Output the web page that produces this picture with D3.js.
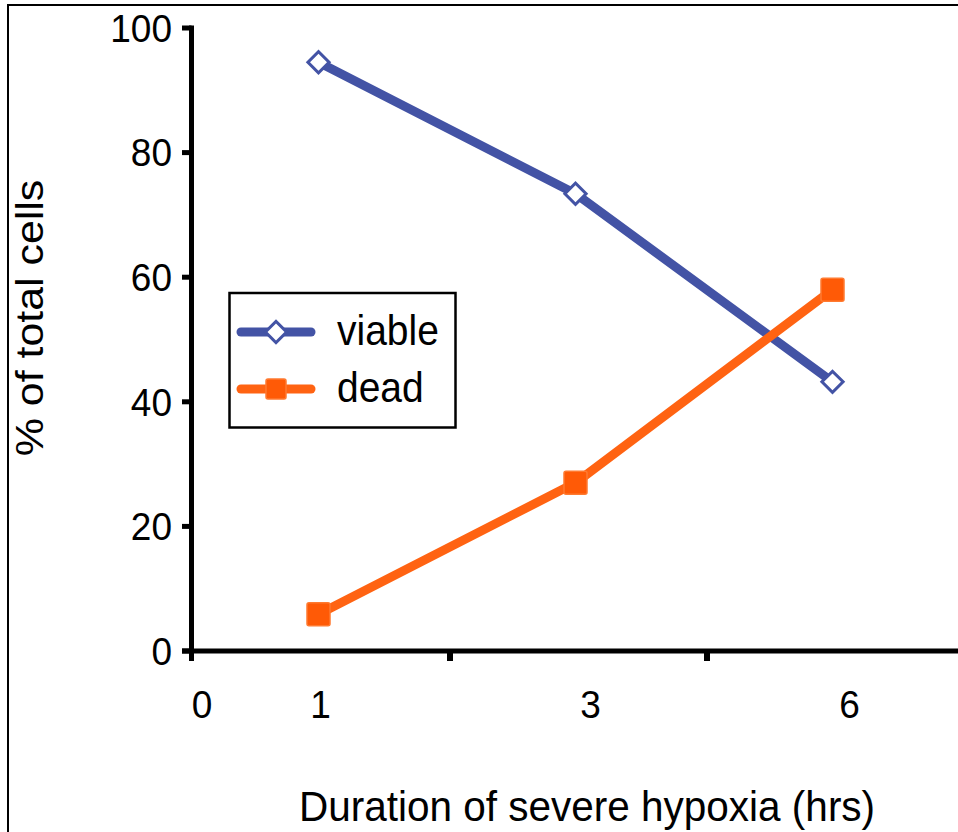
<!DOCTYPE html>
<html>
<head>
<meta charset="utf-8">
<script src="https://cdn.jsdelivr.net/npm/d3@7"></script>
<style>
  html, body { margin: 0; padding: 0; background: #fff; }
  svg { display: block; }
  text { font-family: Arial, "Liberation Sans", sans-serif; fill: #000; }
</style>
</head>
<body>
<svg id="chart" width="958" height="832"></svg>
<script>
// ---- data ----
const categories = ["1", "3", "6"];
const viable = [94.5, 73.4, 43.2];
const dead = [5.9, 27.0, 58.0];
const yTicks = [0, 20, 40, 60, 80, 100];
const xTickLabels = ["0", "1", "3", "6"];
const seriesNames = ["viable", "dead"];

// ---- layout ----
const W = 958, H = 832;
const axisX = 191.5, axisY = 651;
const blue = "#4353A5", orange = "#FF6312";
const svg = d3.select("#chart");

const x = d3.scaleBand().domain(categories).range([190, 961]).paddingInner(0).paddingOuter(0);
const y = d3.scaleLinear().domain([0, 100]).range([axisY, 28]);

// frame
svg.append("rect").attr("x", 8).attr("y", 5).attr("width", W + 20).attr("height", H + 20)
  .attr("fill", "none").attr("stroke", "#000").attr("stroke-width", 2);

// y axis
const yAxis = svg.append("g");
yAxis.append("line").attr("x1", axisX).attr("x2", axisX).attr("y1", y(100) - 2.5).attr("y2", axisY + 10)
  .attr("stroke", "#000").attr("stroke-width", 5);
yAxis.selectAll("line.tick").data(yTicks).join("line").attr("class", "tick")
  .attr("x1", 182).attr("x2", axisX).attr("y1", d => y(d)).attr("y2", d => y(d))
  .attr("stroke", "#000").attr("stroke-width", 5);
yAxis.selectAll("text").data(yTicks).join("text")
  .attr("text-anchor", "end")
  .attr("font-size", 37)
  .attr("transform", d => `translate(172,${y(d)}) scale(1,1.04)`)
  .attr("dy", "0.36em")
  .text(d => d);

// x axis
const xAxis = svg.append("g");
xAxis.append("line").attr("x1", 182).attr("x2", W).attr("y1", axisY).attr("y2", axisY)
  .attr("stroke", "#000").attr("stroke-width", 5);
const boundaries = categories.slice(1).map(c => x(c) + 3);
xAxis.selectAll("line.tick").data(boundaries).join("line").attr("class", "tick")
  .attr("x1", d => d).attr("x2", d => d).attr("y1", axisY).attr("y2", axisY + 10)
  .attr("stroke", "#000").attr("stroke-width", 6);
const labelX = [x.range()[0] + 12, x("1") + x.bandwidth() / 2 + 2, x("3") + x.bandwidth() / 2 + 15, x("6") + x.bandwidth() / 2 + 17];
xAxis.selectAll("text").data(xTickLabels).join("text")
  .attr("text-anchor", "middle")
  .attr("font-size", 37)
  .attr("transform", (d, i) => `translate(${labelX[i]},718) scale(1,1.04)`)
  .text(d => d);

// axis titles
svg.append("text").attr("text-anchor", "middle").attr("font-size", 40.5)
  .attr("transform", "translate(587,821) scale(1,1.07)")
  .text("Duration of severe hypoxia (hrs)");
svg.append("text").attr("text-anchor", "middle").attr("font-size", 39)
  .attr("transform", "translate(43,318) scale(1,1.1) rotate(-90)")
  .text("% of total cells");

// lines
const cx = c => x(c) + x.bandwidth() / 2;
const line = d3.line().x((d, i) => cx(categories[i])).y(d => y(d));
svg.append("path").datum(viable).attr("d", line).attr("fill", "none")
  .attr("stroke", blue).attr("stroke-width", 9).attr("stroke-linecap", "round").attr("stroke-linejoin", "round");
svg.append("path").datum(dead).attr("d", line).attr("fill", "none")
  .attr("stroke", orange).attr("stroke-width", 9).attr("stroke-linecap", "round").attr("stroke-linejoin", "round");

// markers
const diamond = (g, px, py) => g.append("rect")
  .attr("x", -7.5).attr("y", -7.5).attr("width", 15).attr("height", 15)
  .attr("transform", `translate(${px},${py}) rotate(45)`)
  .attr("fill", "#fff").attr("stroke", blue).attr("stroke-width", 3);
const square = (g, px, py, s) => g.append("rect")
  .attr("x", px - s / 2).attr("y", py - s / 2).attr("width", s).attr("height", s).attr("rx", 2)
  .attr("fill", "#FF5A06").attr("stroke", "#FF7A30").attr("stroke-width", 1.5);

const mk = svg.append("g");
viable.forEach((v, i) => diamond(mk, cx(categories[i]), y(v)));
dead.forEach((v, i) => square(mk, cx(categories[i]), y(v), 23));

// legend
const lg = svg.append("g");
lg.append("rect").attr("x", 229.5).attr("y", 293).attr("width", 226).attr("height", 134.5)
  .attr("fill", "#fff").attr("stroke", "#000").attr("stroke-width", 2.5);
const legendY = [332, 389];
const legendColors = [blue, orange];
seriesNames.forEach((name, i) => {
  lg.append("line").attr("x1", 241).attr("x2", 311).attr("y1", legendY[i]).attr("y2", legendY[i])
    .attr("stroke", legendColors[i]).attr("stroke-width", 9).attr("stroke-linecap", "round");
  if (i === 0) diamond(lg, 276, legendY[i]);
  else square(lg, 276, legendY[i], 20);
  lg.append("text").attr("font-size", 39)
    .attr("transform", `translate(337,${legendY[i] + 13}) scale(1,1.1)`)
    .text(name);
});
</script>
</body>
</html>
